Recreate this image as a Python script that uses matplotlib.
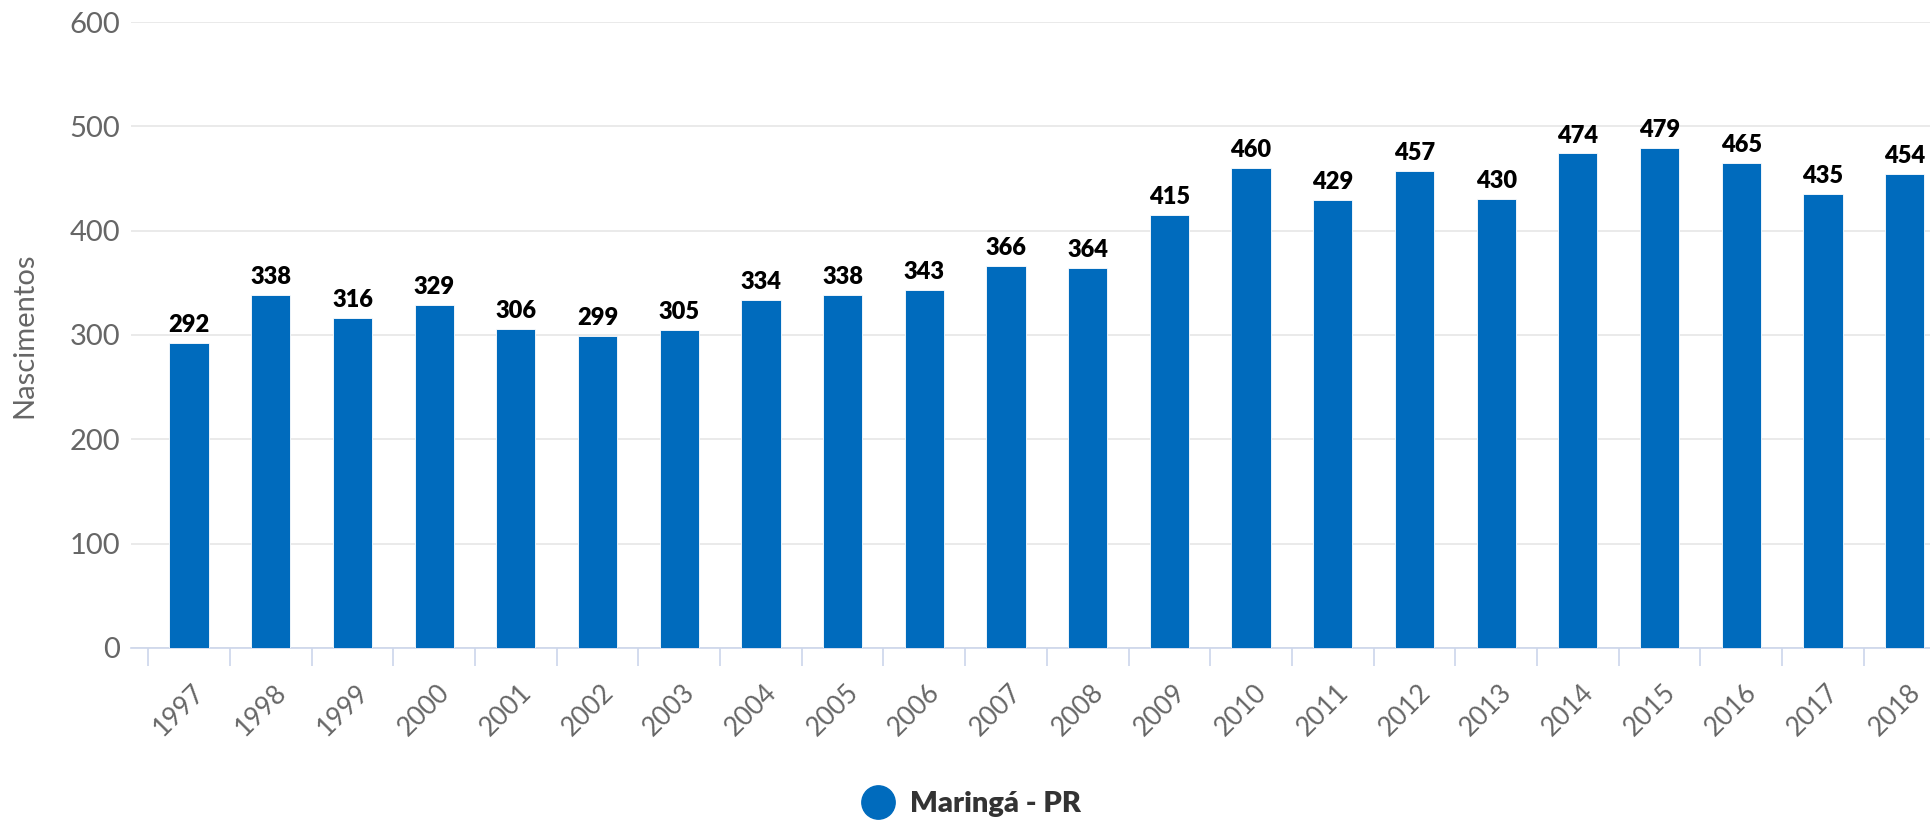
import matplotlib.pyplot as plt
import matplotlib.transforms as mtransforms
from matplotlib.ticker import FixedLocator

# === Data ===
years = [str(y) for y in range(1997, 2019)]
births = [292, 338, 316, 329, 306, 299, 305, 334, 338, 343, 366,
          364, 415, 460, 429, 457, 430, 474, 479, 465, 435, 454]
series_name = "Maringá - PR"
y_ticks = [0, 100, 200, 300, 400, 500, 600]

bar_color = "#006BBD"
text_gray = "#666666"
axis_color = "#CCD6EB"

plt.rcParams['font.family'] = ['Lato', 'DejaVu Sans']

# === Plot ===
fig = plt.figure(figsize=(19.30, 8.24), dpi=100)
ax = fig.add_axes([0.0679, 0.2136, 0.9321, 0.7597])

x = list(range(len(years)))
bars = ax.bar(x, births, width=0.48, color=bar_color,
              edgecolor="white", linewidth=0.6, zorder=3)

for xi, v in zip(x, births):
    ax.annotate(str(v), (xi, v), xytext=(0, 5), textcoords="offset points",
                ha="center", va="bottom", fontsize=17, fontweight="heavy",
                color="black", zorder=4)

ax.set_xlim(-0.71, 21.31)
ax.set_ylim(0, 600)
ax.set_yticks(y_ticks)
ax.set_yticklabels([str(t) for t in y_ticks])
ax.yaxis.grid(True, color="#E6E6E6", linewidth=1.2, zorder=0)
ax.tick_params(axis="y", length=0, pad=8, labelsize=21, labelcolor=text_gray)

# labels at category centres, tick marks at category boundaries
ax.set_xticks(x)
ax.set_xticklabels(years, rotation=45, ha="right", va="top",
                   rotation_mode="anchor")
ax.xaxis.set_minor_locator(FixedLocator([i - 0.5 for i in range(len(years) + 1)]))
ax.tick_params(axis="x", which="major", length=0, pad=18, labelsize=19,
               labelcolor=text_gray)
ax.tick_params(axis="x", which="minor", length=13, width=1.2, color=axis_color)
shift = mtransforms.ScaledTranslation(0.03, -0.07, fig.dpi_scale_trans)
for lbl in ax.get_xticklabels():
    lbl.set_transform(lbl.get_transform() + shift)

for s in ["top", "right", "left"]:
    ax.spines[s].set_visible(False)
ax.spines["bottom"].set_color(axis_color)
ax.spines["bottom"].set_linewidth(1.2)

ax.set_ylabel("Nascimentos", fontsize=21, color=text_gray)
ax.yaxis.set_label_coords(-0.052, 0.5)

# legend
leg_handle = plt.Line2D([], [], marker="o", linestyle="None", markersize=24,
                        color=bar_color, label=series_name)
leg = fig.legend(handles=[leg_handle], loc="center", bbox_to_anchor=(0.5, 0.024),
                 frameon=False, handletextpad=0.1, fontsize=21)
for t in leg.get_texts():
    t.set_fontweight("heavy")
    t.set_color("#333333")

fig.savefig("out.png", dpi=100)
